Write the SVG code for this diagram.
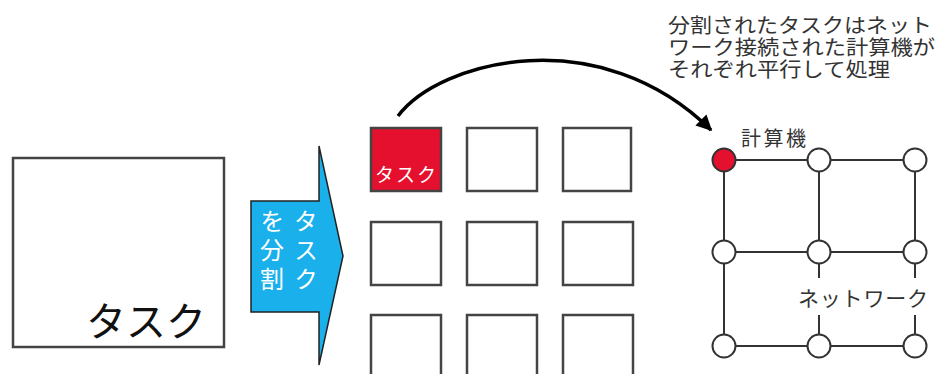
<svg xmlns="http://www.w3.org/2000/svg" width="938" height="374" viewBox="0 0 938 374">
<style>
text{font-family:"Noto Sans CJK JP","Noto Sans CJK SC",sans-serif;}
.box{fill:#fff;stroke:#444;stroke-width:2.5;}
.cell{fill:#fff;stroke:#444;stroke-width:2.5;}
.red{fill:#e5102e;}
.pc{fill:#fff;stroke:#333;stroke-width:2;}
.link{stroke:#333;stroke-width:2;fill:none;}
.lbl{fill:#333;}
.note{font-family:"Liberation Sans","Noto Sans CJK JP",sans-serif;font-size:20px;fill:#333;}
.wt{fill:#fff;font-size:24px;writing-mode:vertical-rl;letter-spacing:5px;}
</style>
<defs>
<marker id="ah" viewBox="0 0 10 10" refX="9" refY="5" markerWidth="6" markerHeight="4.5" orient="auto" markerUnits="strokeWidth">
<path d="M0,0 L10,5 L0,10 z" fill="#000"/>
</marker>
</defs>
<g id="task">
<rect class="box" x="13" y="158" width="211" height="189"/>
<text x="86" y="336" font-size="40" fill="#111">タスク</text>
</g>
<g id="split-arrow">
<polygon points="251,201 319,201 319,146 343,256 319,365 319,312 251,312" fill="#1ab0ec" stroke="#222" stroke-width="1.5"/>
<text class="wt" x="306" y="209">タスク</text>
<text class="wt" x="272" y="209">を分割</text>
</g>
<g id="subtasks">
<rect class="cell red" x="371" y="128" width="70" height="63"/>
<text x="375" y="182" font-size="19" fill="#fff" textLength="61">タスク</text>
<rect class="cell" x="467" y="128" width="70" height="63"/>
<rect class="cell" x="563" y="128" width="68" height="63"/>
<rect class="cell" x="371" y="222" width="70" height="63"/>
<rect class="cell" x="467" y="222" width="70" height="63"/>
<rect class="cell" x="563" y="222" width="70" height="63"/>
<rect class="cell" x="371" y="315" width="70" height="63"/>
<rect class="cell" x="467" y="315" width="70" height="63"/>
<rect class="cell" x="563" y="315" width="70" height="63"/>
</g>
<g id="connectors">
<path d="M398,116 C440,60 600,20 711,130" fill="none" stroke="#000" stroke-width="3.5" marker-end="url(#ah)"/>
<line class="link" x1="724" y1="160" x2="915" y2="160"/>
<line class="link" x1="724" y1="252" x2="915" y2="252"/>
<line class="link" x1="724" y1="346" x2="915" y2="346"/>
<line class="link" x1="724" y1="160" x2="724" y2="346"/>
<line class="link" x1="819" y1="160" x2="819" y2="278"/>
<line class="link" x1="819" y1="315" x2="819" y2="346"/>
<line class="link" x1="915" y1="160" x2="915" y2="278"/>
<line class="link" x1="915" y1="315" x2="915" y2="346"/>
</g>
<g id="computers">
<circle cx="724" cy="160" r="11.5" fill="#e5102e" stroke="#333" stroke-width="2"/>
<circle class="pc" cx="819" cy="160" r="11.5"/>
<circle class="pc" cx="915" cy="160" r="11.5"/>
<circle class="pc" cx="724" cy="252" r="11.5"/>
<circle class="pc" cx="819" cy="252" r="11.5"/>
<circle class="pc" cx="915" cy="252" r="11.5"/>
<circle class="pc" cx="724" cy="346" r="11.5"/>
<circle class="pc" cx="819" cy="346" r="11.5"/>
<circle class="pc" cx="915" cy="346" r="11.5"/>
</g>
<g id="labels">
<text class="lbl" x="741" y="146" font-size="20" textLength="65">計算機</text>
<text class="lbl" x="798" y="306" font-size="21" textLength="130">ネットワーク</text>
<text class="note"><tspan x="668" y="33" textLength="264" lengthAdjust="spacingAndGlyphs">分割されたタスクはネット</tspan><tspan x="668" y="55" textLength="267" lengthAdjust="spacingAndGlyphs">ワーク接続された計算機が</tspan><tspan x="668" y="77" textLength="222" lengthAdjust="spacingAndGlyphs">それぞれ平行して処理</tspan></text>
</g>
</svg>
